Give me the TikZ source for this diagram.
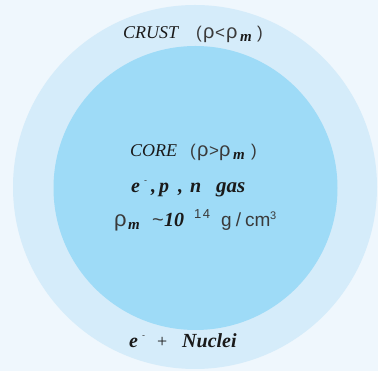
\documentclass[tikz,border=0pt]{standalone}
\usepackage{fontspec}
\setmainfont{Liberation Serif}
\newfontfamily\sansf{Liberation Sans}
\definecolor{bg}{HTML}{EFF7FD}
\definecolor{crustc}{HTML}{D5ECFA}
\definecolor{corec}{HTML}{9EDBF7}
\definecolor{txt}{HTML}{1A1A1A}
\definecolor{gtxt}{HTML}{3A3A3A}
\begin{document}
\begin{tikzpicture}[x=1pt,y=1pt,
  base/.style={text=txt, inner sep=0pt, anchor=base west},
  word/.style={base, font=\fontsize{18}{20}\selectfont\itshape},
  bword/.style={base, font=\fontsize{20}{22}\selectfont\itshape\bfseries},
  sym/.style={base, text=gtxt, font=\fontsize{17}{20}\selectfont\sansf},
  rhoc/.style={base, text=gtxt, font=\fontsize{20}{22}\selectfont\sansf},
  sub/.style={base, font=\fontsize{15}{16}\selectfont\itshape\bfseries, yshift=-3pt},
  sup/.style={base, text=gtxt, font=\fontsize{9}{9}\selectfont\sansf, yshift=9pt}]
\useasboundingbox (0,0) rectangle (378,371);
\fill[bg] (0,0) rectangle (378,371);
\fill[crustc] (195,184) circle (182);
\fill[corec] (195.5,183) circle (142);
% crust line
\node[word] (crust) at (123,332) {CRUST};
\node[sym]  (cp1) at (196,332) {(};
\node[rhoc] (cr1) at (203,332) {ρ};
\node[sym]  (clt) at (215,332) {<};
\node[rhoc] (cr2) at (226,332) {ρ};
\node[sub]  (cm)  at (240,332) {m};
\node[sym]  (cp2) at (257,332) {)};
% core line
\node[word] (core) at (130,214) {CORE};
\node[sym]  (kp1) at (190,214) {(};
\node[rhoc] (kr1) at (197,214) {ρ};
\node[sym]  (kgt) at (209,214) {>};
\node[rhoc] (kr2) at (219,214) {ρ};
\node[sub]  (km)  at (233,214) {m};
\node[sym]  (kp2) at (251,214) {)};
% gas line
\node[bword] (ge) at (131,178) {e};
\node[sup]   (gm) at (144,178) {-};
\node[bword] (gc1) at (151,178) {,};
\node[bword] (gp) at (159,178) {p};
\node[bword] (gc2) at (178,178) {,};
\node[bword] (gn) at (190,178) {n};
\node[base, font=\fontsize{21}{22}\selectfont\itshape\bfseries] (gas) at (216,178) {gas};
% density line
\node[base, text=gtxt, font=\fontsize{22}{22}\selectfont\sansf] (dr) at (114,144) {ρ};
\node[sub] (dm) at (128,144) {m};
\node[base, text=gtxt, font=\fontsize{20}{22}\selectfont\sansf] (dt) at (152,144) {\textasciitilde};
\node[bword] (d10) at (164,144) {10};
\node[base, text=gtxt, font=\fontsize{13}{13}\selectfont\sansf, yshift=8pt] (d14) at (194,144) {1\hspace{1.5pt}4};
\node[base, text=gtxt, font=\fontsize{19}{20}\selectfont\sansf] (dg) at (221,144) {g\hspace{4pt}/\hspace{4pt}cm};
\node[base, text=gtxt, font=\fontsize{11}{11}\selectfont\sansf, yshift=7pt] (d3) at (270,144) {3};
% nuclei line
\node[bword] (ne) at (129,23) {e};
\node[sup]   (nm) at (142,23) {-};
\node[base, font=\fontsize{18}{20}\selectfont] (np) at (157,23) {+};
\node[bword] (nuc) at (182,23) {Nuclei};
\end{tikzpicture}
\end{document}
